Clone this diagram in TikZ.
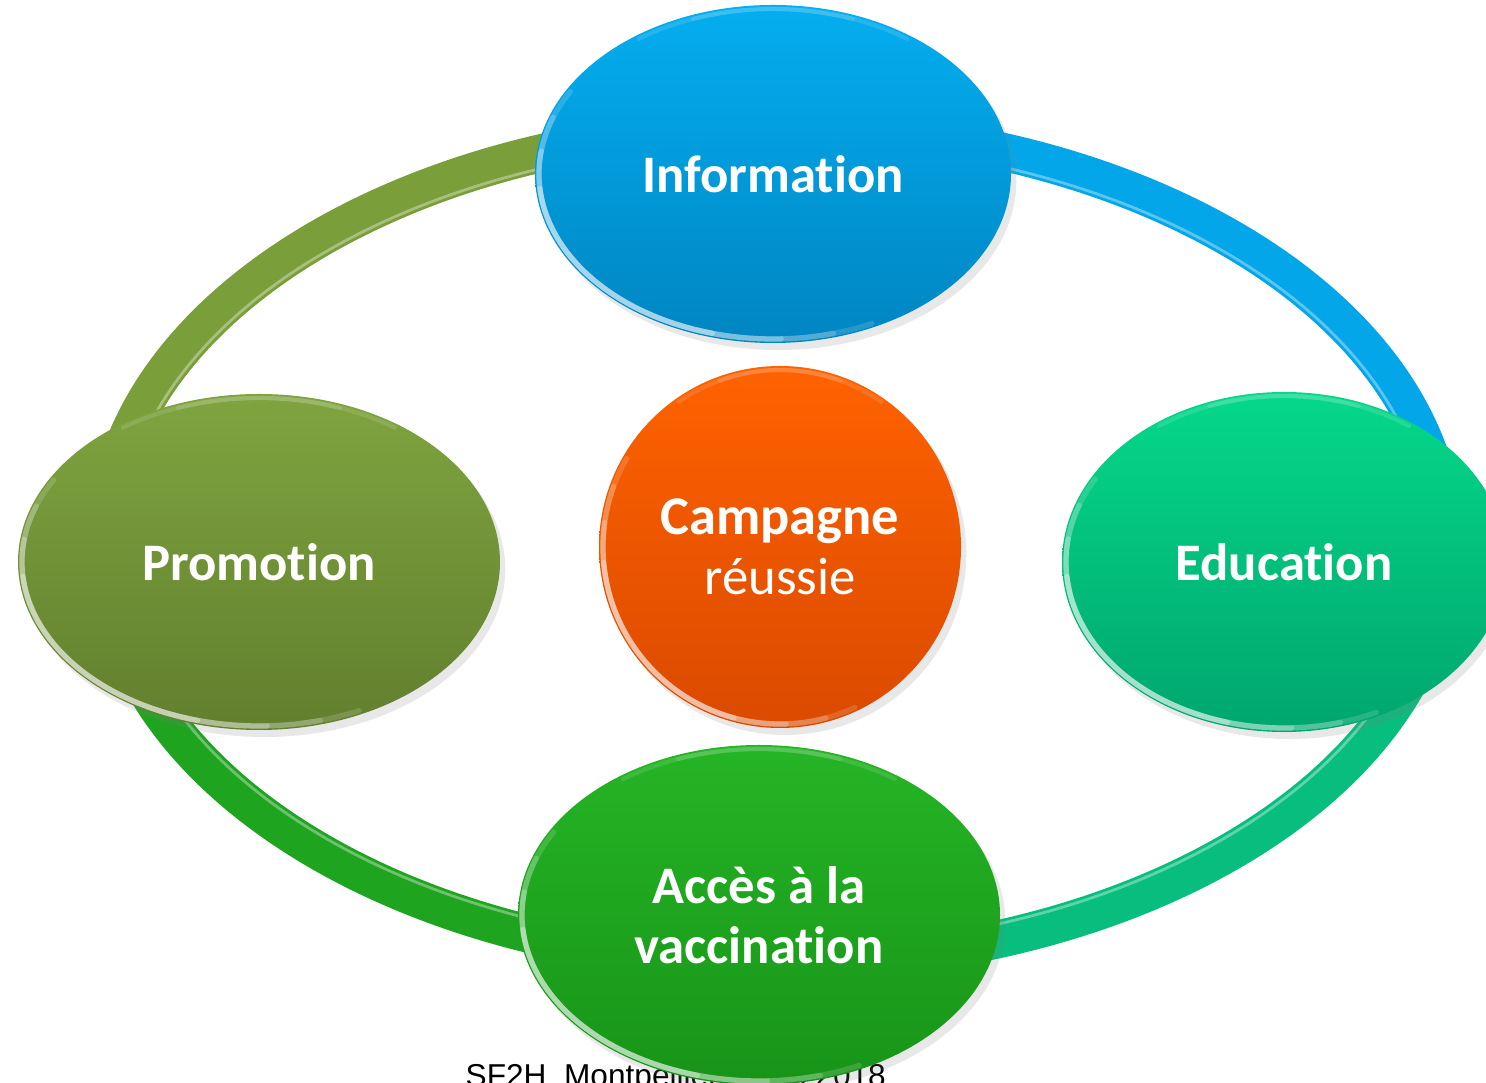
\documentclass[tikz,border=0pt]{standalone}
\usepackage{fontspec}
\setmainfont[Ligatures=NoCommon]{Carlito}
\newfontfamily\footerfont{Liberation Sans}
\usetikzlibrary{shapes.geometric,shadows}

\definecolor{infoTop}{HTML}{04AEF0}
\definecolor{infoBot}{HTML}{0085C2}
\definecolor{promoTop}{HTML}{7FA43F}
\definecolor{promoBot}{HTML}{627F2E}
\definecolor{eduTop}{HTML}{05D88A}
\definecolor{eduBot}{HTML}{00A66E}
\definecolor{accTop}{HTML}{25B525}
\definecolor{accBot}{HTML}{189418}
\definecolor{coreTop}{HTML}{FF6200}
\definecolor{coreBot}{HTML}{DA4A00}
\definecolor{ringOlive}{HTML}{7A9E3A}
\definecolor{ringBlue}{HTML}{03A6E8}
\definecolor{ringTeal}{HTML}{07BE7E}
\definecolor{ringGreen}{HTML}{1FA41F}

\tikzstyle{node_bubble} = [ellipse, inner sep=0pt, text=white, align=center,
  font=\bfseries\fontsize{15}{17}\selectfont,
  drop shadow={opacity=.18, shadow xshift=1.5pt, shadow yshift=-2pt}]
\tikzstyle{node_core} = [node_bubble, circle]
\tikzstyle{ring_arc} = [line width=10.8pt]
\tikzstyle{ring_shine} = [line width=0.8pt, white, opacity=.35]

% glossy rim: stacked arcs so the lower left edge fades out at both ends
\tikzset{gloss/.style 2 args={path picture={
  \foreach \from/\to/\op in {150/295/.15, 160/285/.2, 172/272/.25, 185/255/.3}
    \draw[white, opacity=\op, line width=1.5pt, line cap=round]
      ([shift={(\from:#1 and #2)}]path picture bounding box.center)
      arc[start angle=\from, end angle=\to, x radius=#1, y radius=#2];
  \foreach \from/\to/\op in {55/125/.12, 70/110/.12}
    \draw[white, opacity=\op, line width=1.2pt, line cap=round]
      ([shift={(\from:#1 and #2)}]path picture bounding box.center)
      arc[start angle=\from, end angle=\to, x radius=#1, y radius=#2];
}}}

\begin{document}
\begin{tikzpicture}[x=0.1mm, y=0.1mm]
\clip (0,0) rectangle (1486,1082);

% outer ring, one colour per quarter
\coordinate (ring) at (775,537);
\draw[ring_arc, ringBlue]  ([shift={(0:6.70cm and 4.18cm)}]ring) arc[start angle=0, end angle=90, x radius=6.70cm, y radius=4.18cm];
\draw[ring_arc, ringOlive] ([shift={(90:6.70cm and 4.18cm)}]ring) arc[start angle=90, end angle=180, x radius=6.70cm, y radius=4.18cm];
\draw[ring_arc, ringGreen] ([shift={(180:6.70cm and 4.18cm)}]ring) arc[start angle=180, end angle=270, x radius=6.70cm, y radius=4.18cm];
\draw[ring_arc, ringTeal]  ([shift={(270:6.70cm and 4.18cm)}]ring) arc[start angle=270, end angle=360, x radius=6.70cm, y radius=4.18cm];
\draw[ring_shine] ([shift={(0:6.55cm and 4.03cm)}]ring) arc[start angle=0, end angle=360, x radius=6.55cm, y radius=4.03cm];

\node (footer) at (465,-5) [anchor=base west, inner sep=0pt, font=\footerfont\fontsize{9}{10}\selectfont] {SF2H\ \ Montpellier -- juin 2018};

\node (core) at (780,535) [node_core, minimum size=3.62cm, top color=coreTop, bottom color=coreBot, gloss={1.77cm}{1.77cm}] {\fontsize{15.5}{17.5}\selectfont Campagne\\\mdseries réussie};
\node (info) at (773,908) [node_bubble, minimum width=4.76cm, minimum height=3.38cm, top color=infoTop, bottom color=infoBot, gloss={2.34cm}{1.65cm}] {Information};
\node (promo) at (259,520) [node_bubble, minimum width=4.82cm, minimum height=3.36cm, top color=promoTop, bottom color=promoBot, gloss={2.37cm}{1.64cm}] {Promotion};
\node (edu) at (1284,520) [node_bubble, minimum width=4.44cm, minimum height=3.40cm, top color=eduTop, bottom color=eduBot, gloss={2.18cm}{1.66cm}] {Education};
\node (acces) at (759,167) [node_bubble, minimum width=4.82cm, minimum height=3.40cm, top color=accTop, bottom color=accBot, gloss={2.37cm}{1.66cm}] {Accès à la\\vaccination};
\end{tikzpicture}
\end{document}
